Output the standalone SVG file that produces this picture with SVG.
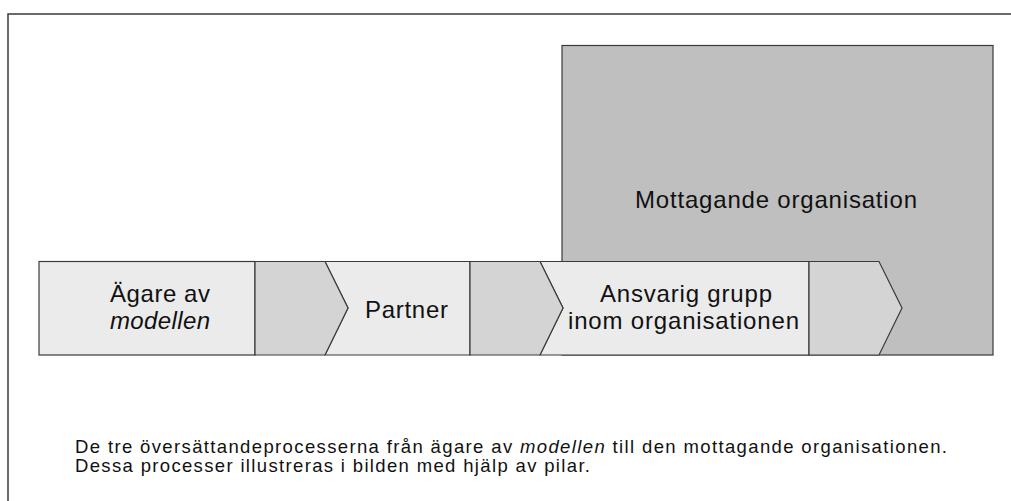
<svg xmlns="http://www.w3.org/2000/svg" width="1011" height="501" viewBox="0 0 1011 501">
  <style>
    .frame { fill: none; stroke: #3a3a3a; stroke-width: 1.5; }
    .org { fill: #bfbfbf; stroke: #3a3a3a; stroke-width: 1.2; }
    .box { fill: #ebebeb; stroke: #3a3a3a; stroke-width: 1.2; }
    .chev { fill: #d4d4d4; stroke: #3a3a3a; stroke-width: 1.2; }
    .lbl { font-family: "Liberation Sans", Arial, sans-serif; font-size: 24px; fill: #111; }
    .cap { font-family: "Liberation Sans", Arial, sans-serif; font-size: 18.5px; fill: #111; }
    .it { font-style: italic; }
  </style>
  <rect width="1011" height="501" fill="#ffffff"/>
  <rect class="frame" x="8" y="14" width="1010" height="500"/>

  <g id="mottagande-organisation">
    <rect class="org" x="562" y="45.5" width="431" height="309.5"/>
    <text class="lbl" x="635" y="208" textLength="282" lengthAdjust="spacing">Mottagande organisation</text>
  </g>

  <g id="agare">
    <rect class="box" x="39" y="261.5" width="216" height="93.5"/>
    <text class="lbl" x="110" y="302" textLength="100" lengthAdjust="spacing">Ägare av</text>
    <text class="lbl it" x="110" y="329" textLength="100" lengthAdjust="spacing">modellen</text>
  </g>

  <g id="partner">
    <polygon class="box" points="325,261.5 470,261.5 470,355 325,355 348,308"/>
    <text class="lbl" x="365" y="318" textLength="83" lengthAdjust="spacing">Partner</text>
  </g>

  <g id="ansvarig-grupp">
    <polygon class="box" points="540,261.5 809,261.5 809,355 540,355 563,308"/>
    <text class="lbl" x="600" y="302" textLength="172" lengthAdjust="spacing">Ansvarig grupp</text>
    <text class="lbl" x="568" y="329" textLength="231" lengthAdjust="spacing">inom organisationen</text>
  </g>

  <g id="connectors">
    <polygon class="chev" points="255,261.5 325,261.5 348,308 325,355 255,355"/>
    <polygon class="chev" points="470,261.5 540,261.5 563,308 540,355 470,355"/>
    <polygon class="chev" points="809,261.5 879,261.5 902,308 879,355 809,355"/>
  </g>

  <g id="caption">
    <text class="cap" x="75" y="453" textLength="872" lengthAdjust="spacing">De tre översättandeprocesserna från ägare av <tspan class="it">modellen</tspan> till den mottagande organisationen.</text>
    <text class="cap" x="75" y="472" textLength="515" lengthAdjust="spacing">Dessa processer illustreras i bilden med hjälp av pilar.</text>
  </g>
</svg>
